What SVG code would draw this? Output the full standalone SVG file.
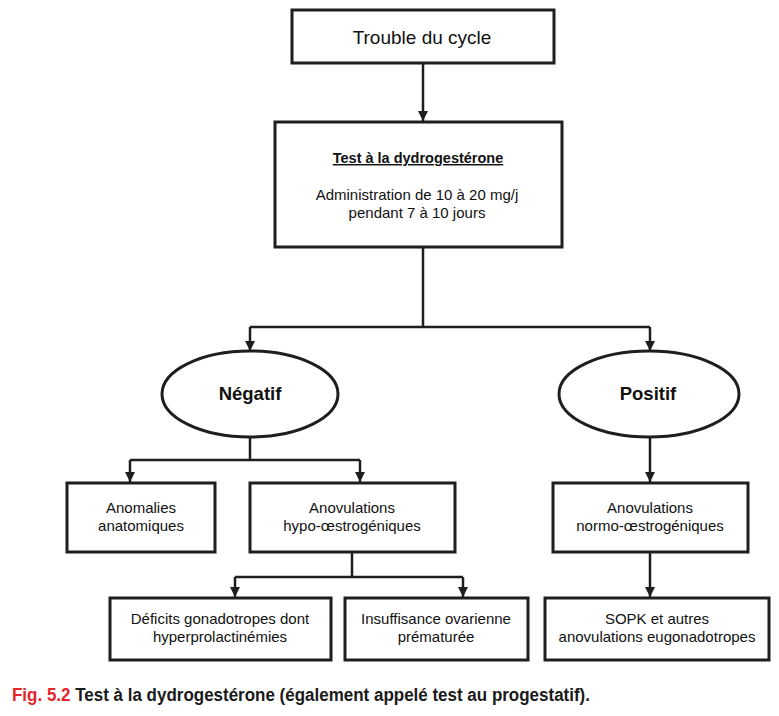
<svg xmlns="http://www.w3.org/2000/svg" width="779" height="716" viewBox="0 0 779 716">
<style>
.box{fill:#fff;stroke:#1e1e1e;stroke-width:3}
.ell{fill:#fff;stroke:#1e1e1e;stroke-width:3}
.con{fill:none;stroke:#1e1e1e;stroke-width:2.5}
.t{font-family:"Liberation Sans",Arial,sans-serif;font-size:15px;fill:#111;text-anchor:middle}
.b{font-weight:bold}
</style>
<defs>
<marker id="ah" viewBox="0 0 10 10" refX="10" refY="5" markerWidth="4.2" markerHeight="4.2" orient="auto" markerUnits="strokeWidth">
<path d="M0,0 L10,5 L0,10 z" fill="#1e1e1e"/>
</marker>
</defs>
<rect width="779" height="716" fill="#fff"/>
<g id="connectors">
<path class="con" d="M423,63 V121" marker-end="url(#ah)"/>
<path class="con" d="M423,247 V327 M250,327 H650"/>
<path class="con" d="M250,327 V351" marker-end="url(#ah)"/>
<path class="con" d="M650,327 V351" marker-end="url(#ah)"/>
<path class="con" d="M250,437 V460 M130,460 H360"/>
<path class="con" d="M130,460 V482" marker-end="url(#ah)"/>
<path class="con" d="M360,460 V482" marker-end="url(#ah)"/>
<path class="con" d="M650,437 V482" marker-end="url(#ah)"/>
<path class="con" d="M352,552 V577 M235,577 H463"/>
<path class="con" d="M235,577 V597" marker-end="url(#ah)"/>
<path class="con" d="M463,577 V597" marker-end="url(#ah)"/>
<path class="con" d="M650,552 V597" marker-end="url(#ah)"/>
</g>
<g id="trouble">
<rect class="box" x="292" y="10" width="262" height="53"/>
<text class="t" x="422" y="44" style="font-size:19px">Trouble du cycle</text>
</g>
<g id="test">
<rect class="box" x="275" y="122" width="287" height="125"/>
<text class="t b" x="418" y="163" style="font-size:14.5px" text-decoration="underline">Test à la dydrogestérone</text>
<text class="t" x="417" y="200">Administration de 10 à 20 mg/j</text>
<text class="t" x="417" y="218">pendant 7 à 10 jours</text>
</g>
<g id="negatif">
<ellipse class="ell" cx="250" cy="394" rx="88" ry="43"/>
<text class="t b" x="250" y="400" style="font-size:18.5px">Négatif</text>
</g>
<g id="positif">
<ellipse class="ell" cx="649" cy="394" rx="90" ry="43"/>
<text class="t b" x="648" y="400" style="font-size:18.5px">Positif</text>
</g>
<g id="anomalies">
<rect class="box" x="67" y="483" width="148" height="69"/>
<text class="t" x="141" y="513">Anomalies</text>
<text class="t" x="141" y="531">anatomiques</text>
</g>
<g id="hypo">
<rect class="box" x="250" y="483" width="205" height="69"/>
<text class="t" x="352" y="513">Anovulations</text>
<text class="t" x="352" y="531">hypo-œstrogéniques</text>
</g>
<g id="normo">
<rect class="box" x="553" y="483" width="195" height="69"/>
<text class="t" x="650" y="513">Anovulations</text>
<text class="t" x="650" y="531">normo-œstrogéniques</text>
</g>
<g id="deficits">
<rect class="box" x="110" y="598" width="221" height="62"/>
<text class="t" x="220" y="624">Déficits gonadotropes dont</text>
<text class="t" x="220" y="642">hyperprolactinémies</text>
</g>
<g id="insuffisance">
<rect class="box" x="345" y="598" width="183" height="62"/>
<text class="t" x="436" y="624">Insuffisance ovarienne</text>
<text class="t" x="436" y="642">prématurée</text>
</g>
<g id="sopk">
<rect class="box" x="545" y="598" width="224" height="62"/>
<text class="t" x="657" y="624">SOPK et autres</text>
<text class="t" x="657" y="642">anovulations eugonadotropes</text>
</g>
<g id="caption">
<text x="12" y="701" font-family="'Liberation Sans',Arial,sans-serif" font-size="17.5" font-weight="bold" textLength="578" lengthAdjust="spacingAndGlyphs"><tspan fill="#e3242b">Fig. 5.2</tspan><tspan fill="#1a1a1a"> Test à la dydrogestérone (également appelé test au progestatif).</tspan></text>
</g>
</svg>
